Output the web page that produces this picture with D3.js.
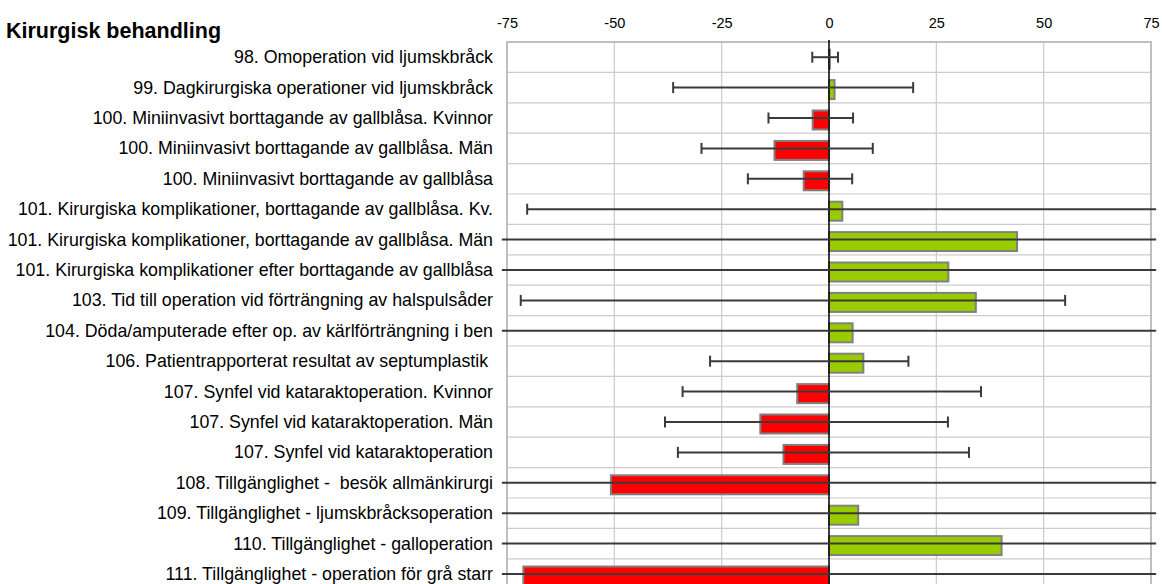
<!DOCTYPE html>
<html><head><meta charset="utf-8">
<script src="https://cdn.jsdelivr.net/npm/d3@7"></script>
<style>body{margin:0;background:#fff}svg{display:block;font-family:"Liberation Sans",Arial,sans-serif}</style>
</head><body><svg id="c" width="1162" height="584"></svg>
<script>
const title = "Kirurgisk behandling";
const categories = [
 "98. Omoperation vid ljumskbråck",
 "99. Dagkirurgiska operationer vid ljumskbråck",
 "100. Miniinvasivt borttagande av gallblåsa. Kvinnor",
 "100. Miniinvasivt borttagande av gallblåsa. Män",
 "100. Miniinvasivt borttagande av gallblåsa",
 "101. Kirurgiska komplikationer, borttagande av gallblåsa. Kv.",
 "101. Kirurgiska komplikationer, borttagande av gallblåsa. Män",
 "101. Kirurgiska komplikationer efter borttagande av gallblåsa",
 "103. Tid till operation vid förträngning av halspulsåder",
 "104. Döda/amputerade efter op. av kärlförträngning i ben",
 "106. Patientrapporterat resultat av septumplastik ",
 "107. Synfel vid kataraktoperation. Kvinnor",
 "107. Synfel vid kataraktoperation. Män",
 "107. Synfel vid kataraktoperation",
 "108. Tillgänglighet -  besök allmänkirurgi",
 "109. Tillgänglighet - ljumskbråcksoperation",
 "110. Tillgänglighet - galloperation",
 "111. Tillgänglighet - operation för grå starr"
];
const values = [0.2, 1.3, -3.8, -12.7, -5.9, 3.1, 43.8, 27.8, 34.2, 5.5, 8.0, -7.4, -16.0, -10.6, -50.8, 6.8, 40.2, -71.2];
// null = interval unbounded (extends beyond the axis)
const lower = [-3.9, -36.3, -14.1, -29.7, -18.9, -70.3, null, null, -71.8, null, -27.7, -34.1, -38.2, -35.2, null, null, null, null];
const upper = [2.1, 19.6, 5.6, 10.2, 5.4, null, null, null, 55.0, null, 18.5, 35.4, 27.7, 32.6, null, null, null, null];
const tickValues = [-75, -50, -25, 0, 25, 50, 75];
const tickLabels = ["-75", "-50", "-25", "0", "25", "50", "75"];
const xDomain = [-75, 75];
const unbounded = 76.2;

const svg = d3.select("#c");
const L = 507, R = 1151, T = 42, rowH = 30.4;
const H = rowH * categories.length;
const x = d3.scaleLinear().domain(xDomain).range([L, R]);
const y = d3.scaleBand().domain(categories).range([T, T + H]);
const cy = d => y(d) + y.bandwidth() / 2;

// horizontal grid (category boundaries)
svg.append("g").selectAll("line").data(categories.slice(1)).join("line")
  .attr("x1", L).attr("x2", R).attr("y1", d => y(d)).attr("y2", d => y(d))
  .attr("stroke", "#cccccc").attr("stroke-width", 1.2);
// vertical grid
svg.append("g").selectAll("line").data(tickValues.filter(v => v !== 0 && v !== -75 && v !== 75)).join("line")
  .attr("x1", d => x(d)).attr("x2", d => x(d)).attr("y1", T).attr("y2", T + H)
  .attr("stroke", "#cccccc").attr("stroke-width", 1.2);
// border
svg.append("rect").attr("x", L).attr("y", T).attr("width", R - L).attr("height", H)
  .attr("fill", "none").attr("stroke", "#bfbfbf").attr("stroke-width", 2);

// top axis labels
const ax = d3.axisTop(x).tickValues(tickValues).tickSize(0).tickPadding(0)
  .tickFormat((d, i) => tickLabels[i]);
const axG = svg.append("g").attr("transform", "translate(0,28)").call(ax);
axG.select(".domain").remove();
axG.selectAll("text").attr("font-size", 14.5).attr("fill", "#000").attr("dy", 0)
  .attr("font-family", "'Liberation Sans',Arial,sans-serif");

// bars
svg.append("g").selectAll("rect").data(values).join("rect")
  .attr("x", (d) => x(Math.min(0, d)))
  .attr("y", (d, i) => cy(categories[i]) - 7.5)
  .attr("width", d => Math.abs(x(d) - x(0)))
  .attr("height", 19)
  .attr("fill", d => d < 0 ? "#ff0000" : "#99cc00")
  .attr("stroke", "#808080").attr("stroke-width", 2);

// zero line
svg.append("line").attr("x1", x(0)).attr("x2", x(0)).attr("y1", T - 2).attr("y2", T + H)
  .attr("stroke", "#000").attr("stroke-width", 1.5);

// error bars
const eb = svg.append("g").attr("stroke", "#3a3a3a").attr("stroke-width", 2);
categories.forEach((c, i) => {
  const lo = lower[i] === null ? -unbounded : lower[i];
  const hi = upper[i] === null ? unbounded : upper[i];
  const yy = cy(c);
  eb.append("line").attr("x1", x(lo)).attr("x2", x(hi)).attr("y1", yy).attr("y2", yy);
  if (lower[i] !== null) eb.append("line").attr("x1", x(lo)).attr("x2", x(lo)).attr("y1", yy - 5.5).attr("y2", yy + 5.5);
  if (upper[i] !== null) eb.append("line").attr("x1", x(hi)).attr("x2", x(hi)).attr("y1", yy - 5.5).attr("y2", yy + 5.5);
});

// category labels
svg.append("g").selectAll("text").data(categories).join("text")
  .attr("x", 493).attr("y", d => cy(d) + 6)
  .attr("text-anchor", "end").attr("font-size", 17.8).attr("fill", "#000")
  .style("white-space", "pre").text(d => d);

// title
svg.append("text").attr("x", 6).attr("y", 38).attr("font-size", 21.5).attr("font-weight", "bold")
  .attr("fill", "#000").text(title);
</script></body></html>
